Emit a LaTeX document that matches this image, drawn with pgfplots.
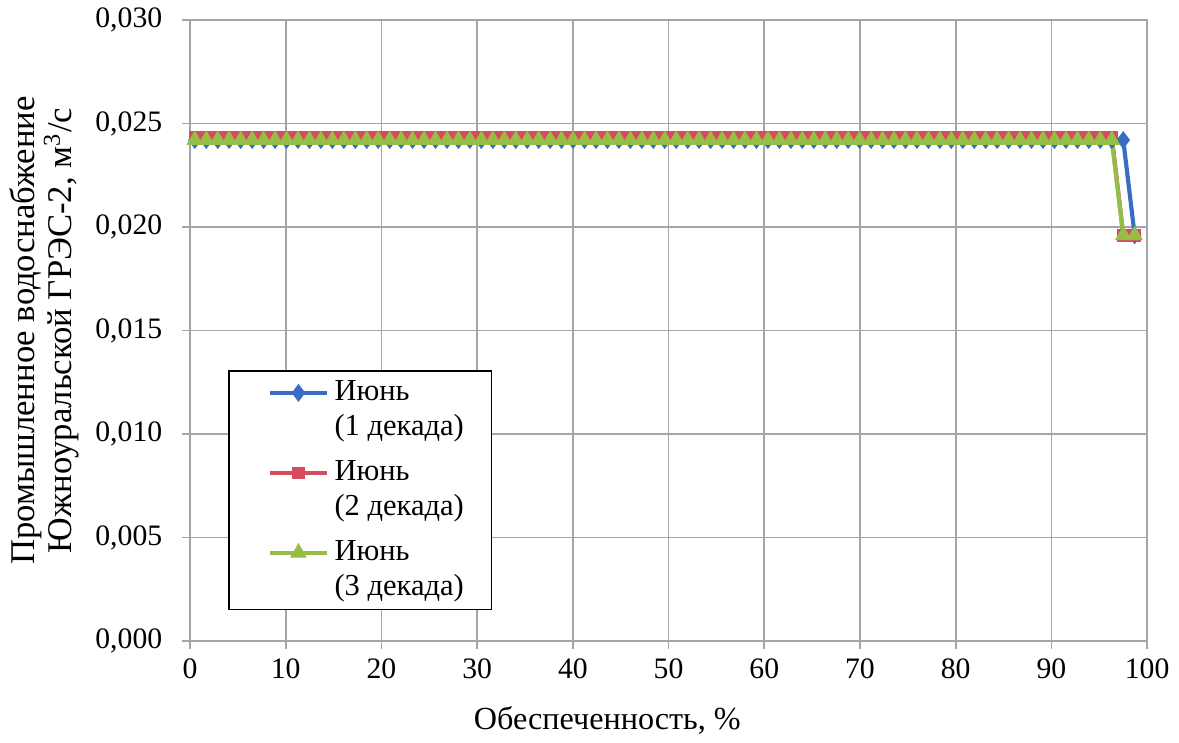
\documentclass[border=0pt]{standalone}
\usepackage{fontspec}
\setmainfont{Liberation Serif}
\usepackage{pgfplots}
\usepackage{pgfplotstable}
\pgfplotsset{compat=1.18}
\definecolor{sblue}{RGB}{55,110,195}
\definecolor{sred}{RGB}{215,75,95}
\definecolor{sgreen}{RGB}{150,190,70}
\definecolor{gridc}{RGB}{165,165,172}
\pgfplotstableread{
x b r g
0.50 0.0242 0.02435 0.0242
1.70 0.0242 0.02435 0.0242
2.90 0.0242 0.02435 0.0242
4.09 0.0242 0.02435 0.0242
5.29 0.0242 0.02435 0.0242
6.49 0.0242 0.02435 0.0242
7.69 0.0242 0.02435 0.0242
8.88 0.0242 0.02435 0.0242
10.08 0.0242 0.02435 0.0242
11.28 0.0242 0.02435 0.0242
12.48 0.0242 0.02435 0.0242
13.67 0.0242 0.02435 0.0242
14.87 0.0242 0.02435 0.0242
16.07 0.0242 0.02435 0.0242
17.27 0.0242 0.02435 0.0242
18.46 0.0242 0.02435 0.0242
19.66 0.0242 0.02435 0.0242
20.86 0.0242 0.02435 0.0242
22.06 0.0242 0.02435 0.0242
23.25 0.0242 0.02435 0.0242
24.45 0.0242 0.02435 0.0242
25.65 0.0242 0.02435 0.0242
26.85 0.0242 0.02435 0.0242
28.04 0.0242 0.02435 0.0242
29.24 0.0242 0.02435 0.0242
30.44 0.0242 0.02435 0.0242
31.64 0.0242 0.02435 0.0242
32.84 0.0242 0.02435 0.0242
34.03 0.0242 0.02435 0.0242
35.23 0.0242 0.02435 0.0242
36.43 0.0242 0.02435 0.0242
37.63 0.0242 0.02435 0.0242
38.82 0.0242 0.02435 0.0242
40.02 0.0242 0.02435 0.0242
41.22 0.0242 0.02435 0.0242
42.42 0.0242 0.02435 0.0242
43.61 0.0242 0.02435 0.0242
44.81 0.0242 0.02435 0.0242
46.01 0.0242 0.02435 0.0242
47.21 0.0242 0.02435 0.0242
48.40 0.0242 0.02435 0.0242
49.60 0.0242 0.02435 0.0242
50.80 0.0242 0.02435 0.0242
52.00 0.0242 0.02435 0.0242
53.19 0.0242 0.02435 0.0242
54.39 0.0242 0.02435 0.0242
55.59 0.0242 0.02435 0.0242
56.79 0.0242 0.02435 0.0242
57.98 0.0242 0.02435 0.0242
59.18 0.0242 0.02435 0.0242
60.38 0.0242 0.02435 0.0242
61.58 0.0242 0.02435 0.0242
62.78 0.0242 0.02435 0.0242
63.97 0.0242 0.02435 0.0242
65.17 0.0242 0.02435 0.0242
66.37 0.0242 0.02435 0.0242
67.57 0.0242 0.02435 0.0242
68.76 0.0242 0.02435 0.0242
69.96 0.0242 0.02435 0.0242
71.16 0.0242 0.02435 0.0242
72.36 0.0242 0.02435 0.0242
73.55 0.0242 0.02435 0.0242
74.75 0.0242 0.02435 0.0242
75.95 0.0242 0.02435 0.0242
77.15 0.0242 0.02435 0.0242
78.34 0.0242 0.02435 0.0242
79.54 0.0242 0.02435 0.0242
80.74 0.0242 0.02435 0.0242
81.94 0.0242 0.02435 0.0242
83.13 0.0242 0.02435 0.0242
84.33 0.0242 0.02435 0.0242
85.53 0.0242 0.02435 0.0242
86.73 0.0242 0.02435 0.0242
87.92 0.0242 0.02435 0.0242
89.12 0.0242 0.02435 0.0242
90.32 0.0242 0.02435 0.0242
91.52 0.0242 0.02435 0.0242
92.72 0.0242 0.02435 0.0242
93.91 0.0242 0.02435 0.0242
95.11 0.0242 0.02435 0.0242
96.31 0.0242 0.02435 0.0242
97.51 0.0242 0.0196 0.0196
98.70 0.0196 0.0196 0.0196
}\data
\begin{document}
\begin{tikzpicture}
\begin{axis}[
  scale only axis,
  width=345pt, height=223.9pt,
  xmin=0, xmax=100, ymin=0, ymax=0.030,
  xtick={0,10,...,100},
  ytick={0,0.005,0.010,0.015,0.020,0.025,0.030},
  scaled y ticks=false,
  yticklabel style={xshift=-3.6pt, /pgf/number format/.cd, fixed, fixed zerofill, precision=3, use comma},
  /pgf/number format/assume math mode=true,
  tick label style={font=\fontsize{10.7}{13}\selectfont},
  xlabel style={font=\fontsize{11.6}{13}\selectfont},
  ylabel style={font=\fontsize{12.5}{13.5}\selectfont},
  grid=major,
  major grid style={gridc, line width=0.6pt},
  axis line style={gridc, line width=0.6pt},
  tick style={gridc, line width=0.6pt},
  tick align=outside,
  major tick length=2.9pt,
  xtick pos=left, ytick pos=left,
  xlabel={Обеспеченность, \%},
  xlabel style={at={(axis description cs:0.436,-0.127)}, anchor=center},
  ylabel={Промышленное водоснабжение\\Южноуральской ГРЭС-2, м\textsuperscript{3}/с},
  ylabel style={at={(axis description cs:-0.152,0.5)}, anchor=center, align=center},
  legend style={at={(axis description cs:0.04,0.436)}, anchor=north west,
    draw=black, line width=0.6pt, font=\fontsize{11}{12.6}\selectfont,
    cells={align=left, anchor=west, inner xsep=0.5pt}, inner xsep=4pt, inner ysep=1.5pt, row sep=3.5pt},
  legend image code/.code={%
    \path (-10pt,-8pt) (20.5pt,8pt);
    \draw[mark repeat=2,mark phase=2] plot coordinates {(0pt,6.3pt) (10.25pt,6.3pt) (20.5pt,6.3pt)};},
]
\addplot[sblue, line width=1.5pt, mark=diamond*, mark size=2pt, mark options={solid}] table[x=x,y=b]{\data};
\addlegendentry{Июнь\\(1 декада)\hspace*{4pt}}
\addplot[sred, line width=1.5pt, mark=square*, mark size=1.5pt, mark options={solid}] table[x=x,y=r]{\data};
\addlegendentry{Июнь\\(2 декада)\hspace*{4pt}}
\addplot[sgreen, line width=1.5pt, mark=triangle*, mark size=2pt, mark options={solid}] table[x=x,y=g]{\data};
\addlegendentry{Июнь\\(3 декада)\hspace*{4pt}}
\coordinate (bl) at (rel axis cs:0,0);
\coordinate (tr) at (rel axis cs:1,1);
\end{axis}
\pgfresetboundingbox
\path ([shift={(-68.5pt,-36.4pt)}]bl) rectangle ([shift={(11.5pt,7.2pt)}]tr);
\end{tikzpicture}
\end{document}
